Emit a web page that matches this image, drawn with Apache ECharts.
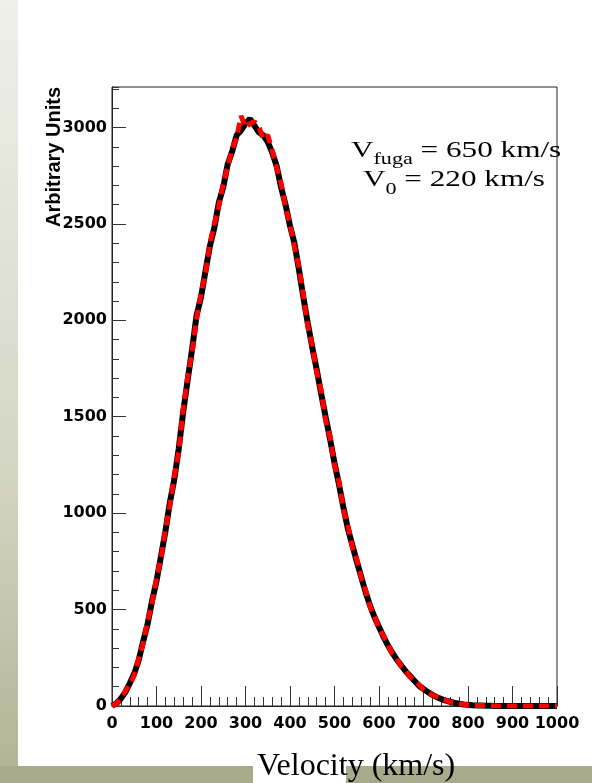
<!DOCTYPE html>
<html>
<head>
<meta charset="utf-8">
<script src="https://cdn.jsdelivr.net/npm/echarts@6/dist/echarts.min.js"></script>
<style>
html, body { margin: 0; padding: 0; background: #fff; }
#chart { width: 592px; height: 783px; }
</style>
</head>
<body>
<div id="chart"></div>
<script>
// velocity bins (km/s)
var velocity = [
  0, 10, 20, 30, 40, 50, 60, 70, 80, 90,
  100, 110, 120, 130, 140, 150, 160, 170, 180, 190,
  200, 210, 220, 230, 240, 250, 260, 270, 280, 290,
  300, 310, 320, 330, 340, 350, 360, 370, 380, 390,
  400, 410, 420, 430, 440, 450, 460, 470, 480, 490,
  500, 510, 520, 530, 540, 550, 560, 570, 580, 590,
  600, 610, 620, 630, 640, 650, 660, 670, 680, 690,
  700, 710, 720, 730, 740, 750, 760, 770, 780, 790,
  800, 810, 820, 830, 840, 850, 860, 870, 880, 890,
  900, 910, 920, 930, 940, 950, 960, 970, 980, 990, 1000
];

// black histogram
var countsBlack = [
  0, 14, 38, 72, 118, 168, 238, 335, 425, 545,
  648, 775, 905, 1055, 1175, 1335, 1525, 1690, 1850, 2025,
  2120, 2255, 2385, 2480, 2610, 2690, 2810, 2875, 2960, 2985,
  3020, 3045, 3010, 2975, 2960, 2925, 2870, 2800, 2690, 2600,
  2490, 2400, 2265, 2120, 1985, 1860, 1745, 1620, 1500, 1385,
  1260, 1150, 1030, 920, 835, 750, 670, 590, 520, 460,
  410, 360, 315, 275, 240, 210, 180, 155, 130, 105,
  88, 72, 58, 46, 36, 28, 22, 16, 12, 8,
  6, 4, 3, 2, 1, 1, 0, 0, 0, 0,
  0, 0, 0, 0, 0, 0, 0, 0, 0, 0, 0
];

// red histogram
var countsRed = [
  0, 12, 42, 78, 112, 160, 245, 325, 438, 535,
  660, 765, 915, 1040, 1190, 1320, 1540, 1705, 1835, 2010,
  2140, 2240, 2400, 2500, 2590, 2710, 2795, 2890, 2945, 3060,
  3000, 3020, 3030, 3005, 2940, 2960, 2880, 2790, 2710, 2585,
  2500, 2380, 2280, 2130, 1970, 1870, 1730, 1635, 1480, 1395,
  1250, 1165, 1020, 935, 825, 760, 665, 600, 515, 465,
  400, 365, 320, 270, 245, 205, 185, 150, 132, 110,
  85, 74, 56, 48, 35, 30, 20, 17, 11, 9,
  5, 4, 3, 2, 2, 1, 0, 0, 0, 0,
  0, 0, 0, 0, 0, 0, 0, 0, 0, 0, 0
];

var chartDom = document.getElementById('chart');
var myChart = echarts.init(chartDom, null, { renderer: 'canvas' });

var tickFont = { fontFamily: 'DejaVu Sans', fontWeight: 'bold', fontSize: 16, color: '#000' };
var plainNum = function (v) { return String(v); };

var option = {
  backgroundColor: '#fff',
  animation: false,
  grid: {
    left: 112, right: 35, top: 87, bottom: 77,
    show: true, borderColor: '#222', borderWidth: 1
  },
  xAxis: {
    type: 'value',
    min: 0, max: 1000, interval: 100,
    axisLine: { show: true, onZero: false, lineStyle: { color: '#222', width: 1 } },
    axisTick: { show: true, inside: true, length: 20, lineStyle: { color: '#333' } },
    minorTick: { show: true, splitNumber: 5, length: 9, lineStyle: { color: '#333' } },
    splitLine: { show: false },
    axisLabel: Object.assign({ margin: 10, formatter: plainNum }, tickFont)
  },
  yAxis: [
    {
      // 100-unit minor ticks
      type: 'value',
      min: 0, max: 3210, interval: 100,
      position: 'left',
      axisLine: { show: true, onZero: false, lineStyle: { color: '#222' } },
      axisTick: { show: true, inside: true, length: 7, lineStyle: { color: '#333' } },
      axisLabel: { show: false },
      splitLine: { show: false }
    },
    {
      type: 'value',
      min: 0, max: 3210, interval: 500,
      position: 'left',
      axisLine: { show: true, onZero: false, lineStyle: { color: '#222' } },
      axisTick: { show: true, inside: true, length: 14, lineStyle: { color: '#333' } },
      axisLabel: Object.assign({ margin: 5, showMaxLabel: false, formatter: plainNum }, tickFont),
      splitLine: { show: false }
    }
  ],
  series: [
    {
      type: 'line',
      yAxisIndex: 1,
      data: velocity.map(function (v, i) { return [v, countsBlack[i]]; }),
      showSymbol: false,
      lineStyle: { color: '#000', width: 6 },
      z: 2
    },
    {
      type: 'line',
      yAxisIndex: 1,
      data: velocity.map(function (v, i) { return [v, countsRed[i]]; }),
      showSymbol: false,
      lineStyle: { color: '#ff0000', width: 5, type: [10, 6] },
      z: 3
    }
  ],
  graphic: [
    // slide background strips
    {
      type: 'rect', z: -10,
      shape: { x: 0, y: 0, width: 18, height: 783 },
      style: {
        fill: new echarts.graphic.LinearGradient(0, 0, 0, 1, [
          { offset: 0, color: '#eff0ea' },
          { offset: 0.6, color: '#d4d6c4' },
          { offset: 1, color: '#b1b394' }
        ])
      }
    },
    {
      type: 'rect', z: -10,
      shape: { x: 0, y: 766, width: 592, height: 17 },
      style: { fill: '#a9aa8b' }
    },
    {
      type: 'rect', z: -9,
      shape: { x: 253, y: 766, width: 93, height: 17 },
      style: { fill: '#fff' }
    },
    {
      type: 'text', z: 10,
      x: 257, y: 767,
      style: { text: 'Velocity (km/s)', font: '32px "Liberation Serif"', fill: '#000', verticalAlign: 'middle' }
    },
    {
      type: 'text', z: 10,
      x: 54, y: 87, rotation: Math.PI / 2,
      style: { text: 'Arbitrary Units', font: 'bold 20px "Liberation Sans"', fill: '#000', align: 'right', verticalAlign: 'middle' }
    },
    {
      type: 'group', z: 10,
      x: 351, y: 0, scaleX: 1.3,
      children: [
        { type: 'text', x: 0, y: 151, style: { text: 'V', font: '24px "Liberation Serif"', fill: '#000', verticalAlign: 'middle' } },
        { type: 'text', x: 17.3, y: 160, style: { text: 'fuga', font: '17px "Liberation Serif"', fill: '#000', verticalAlign: 'middle' } },
        { type: 'text', x: 47.5, y: 151, style: { text: ' = 650 km/s', font: '24px "Liberation Serif"', fill: '#000', verticalAlign: 'middle' } }
      ]
    },
    {
      type: 'group', z: 10,
      x: 363, y: 0, scaleX: 1.3,
      children: [
        { type: 'text', x: 0, y: 180, style: { text: 'V', font: '24px "Liberation Serif"', fill: '#000', verticalAlign: 'middle' } },
        { type: 'text', x: 17.3, y: 190, style: { text: '0', font: '17px "Liberation Serif"', fill: '#000', verticalAlign: 'middle' } },
        { type: 'text', x: 25.8, y: 180, style: { text: ' = 220 km/s', font: '24px "Liberation Serif"', fill: '#000', verticalAlign: 'middle' } }
      ]
    }
  ]
};

myChart.setOption(option);
</script>
</body>
</html>
